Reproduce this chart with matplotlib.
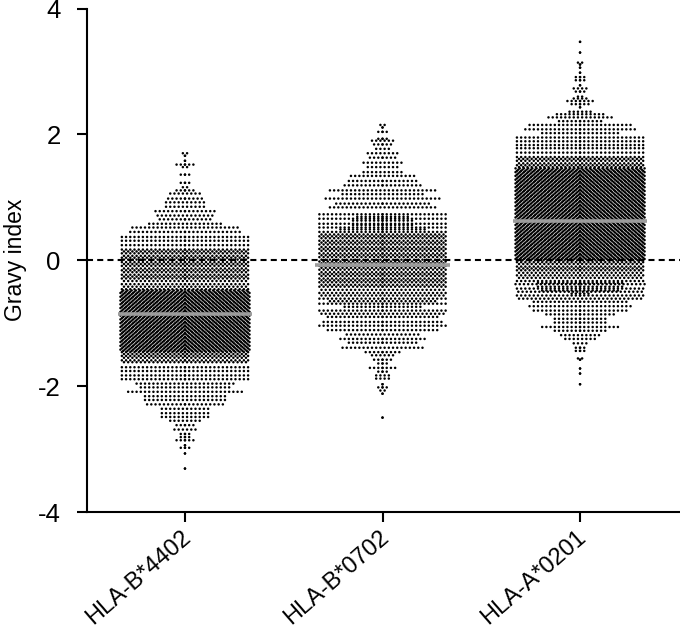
#!/usr/bin/env python3

from matplotlib import pyplot as plt
from matplotlib.transforms import ScaledTranslation
import numpy as np

alleles = ["HLA-B*4402", "HLA-B*0702", "HLA-A*0201"]
means = [-0.85, -0.08, 0.63]

# rows of the swarm: gravy value of a row and how many peptides sit in it
b4402_gravy = [
    1.70, 1.66, 1.58, 1.52, 1.48, 1.36, 1.23, 1.16, 1.11, 1.06, 0.98, 0.92, 0.85, 0.78, 0.71, 0.65,
    0.58, 0.52, 0.45, 0.37, 0.31, 0.24,
    0.17, 0.14, 0.11, 0.07, 0.04, 0.01, -0.03, -0.06, -0.09, -0.13, -0.16, -0.19, -0.23, -0.26,
    -0.29, -0.33, -0.38, -0.42,
    -0.46, -0.48, -0.50, -0.52, -0.54, -0.56, -0.58, -0.60, -0.62, -0.64, -0.66, -0.68, -0.70,
    -0.72, -0.74, -0.76, -0.78, -0.80, -0.82, -0.84, -0.86, -0.88, -0.90, -0.92, -0.94, -0.96,
    -0.98, -1.00, -1.02, -1.04, -1.06, -1.08, -1.10, -1.12, -1.14, -1.16, -1.18, -1.20, -1.22,
    -1.24, -1.26, -1.28, -1.30, -1.32, -1.34, -1.36, -1.38, -1.40, -1.42, -1.44,
    -1.46, -1.49, -1.52, -1.55, -1.59, -1.62,
    -1.70, -1.76, -1.83, -1.89, -1.96, -2.02, -2.09, -2.16, -2.22, -2.29, -2.36, -2.43, -2.49,
    -2.55, -2.62, -2.69, -2.76, -2.81, -2.86, -2.94, -2.98, -3.07, -3.31,
]
b4402_count = [
    2, 1, 1, 5, 2, 3, 3, 2, 5, 8, 9, 10, 10, 15, 14, 13,
    18, 26, 27, 31, 31, 31,
    31, 31, 31, 31, 31, 31, 31, 31, 31, 31, 31, 31, 31, 31,
    31, 31, 31, 31,
    31, 31, 31, 31, 31, 31, 31, 31, 31, 31, 31, 31, 31,
    31, 31, 31, 31, 31, 31, 31, 31, 31, 31, 31, 31, 31,
    31, 31, 31, 31, 31, 31, 31, 31, 31, 31, 31, 31, 31,
    31, 31, 31, 31, 31, 31, 31, 31, 31, 31, 31,
    31, 31, 31, 31, 31, 31,
    31, 31, 31, 31, 24, 22, 28, 20, 20, 19, 12, 12, 12,
    8, 5, 6, 3, 3, 5, 1, 3, 1, 1,
]

b0702_gravy = [
    2.15, 2.11, 2.04, 1.93, 1.90, 1.84, 1.77, 1.70, 1.63, 1.55, 1.48, 1.40, 1.34, 1.26, 1.19, 1.11,
    1.05, 0.98, 0.90, 0.84, 0.73, 0.69, 0.66, 0.63, 0.58, 0.56, 0.52, 0.49, 0.45,
    0.41, 0.38, 0.35, 0.31, 0.28, 0.25, 0.21, 0.18, 0.15, 0.11, 0.08, 0.05, 0.01, -0.02, -0.05,
    -0.09, -0.12, -0.15, -0.19, -0.22, -0.25, -0.29, -0.32, -0.35, -0.39, -0.42, -0.47, -0.52,
    -0.56, -0.61, -0.65, -0.69, -0.74, -0.80, -0.85, -0.90, -0.98, -1.04, -1.11, -1.18, -1.25,
    -1.31, -1.39, -1.46, -1.51, -1.58, -1.64, -1.71, -1.77, -1.83, -1.88, -1.97, -2.02, -2.07,
    -2.12, -2.50,
]
b0702_count = [
    2, 1, 3, 3, 6, 5, 4, 8, 7, 10, 8, 10, 16, 17, 19, 26,
    20, 28, 23, 26, 31, 13, 31, 15, 31, 15, 31, 21, 31,
    31, 31, 31, 31, 31, 31, 31, 31, 31, 31, 31, 31, 31, 31, 31,
    31, 31, 31, 31, 31, 31, 31, 31, 31, 31, 31, 31, 31,
    31, 31, 25, 31, 19, 31, 31, 27, 29, 31, 27, 18, 21,
    17, 20, 9, 6, 5, 3, 7, 3, 4, 4, 1, 3, 2,
    1, 1,
]

a0201_gravy = [
    3.47, 3.30, 3.14, 3.11, 3.06, 2.98, 2.91, 2.86, 2.78, 2.73, 2.68, 2.60, 2.57, 2.53, 2.48, 2.43,
    2.36, 2.32, 2.27, 2.21, 2.15, 2.08, 2.02, 1.95, 1.89, 1.83, 1.78, 1.71,
    1.64, 1.61, 1.58, 1.54, 1.51, 1.48,
    1.46, 1.44, 1.42, 1.40, 1.38, 1.36, 1.34, 1.32, 1.30, 1.28, 1.26, 1.24, 1.22, 1.20, 1.18,
    1.16, 1.14, 1.12, 1.10, 1.08, 1.06, 1.04, 1.02, 1.00, 0.98, 0.96, 0.94, 0.92, 0.90, 0.88,
    0.86, 0.84, 0.82, 0.80, 0.78, 0.76, 0.74, 0.72, 0.70, 0.68, 0.66, 0.64, 0.62, 0.60, 0.58,
    0.56, 0.54, 0.52, 0.50, 0.48, 0.46, 0.44, 0.42, 0.40, 0.38, 0.36, 0.34, 0.32, 0.30, 0.28,
    0.26, 0.24, 0.22, 0.20, 0.18, 0.16, 0.14, 0.12, 0.10, 0.08, 0.06, 0.04, 0.02, 0.00,
    -0.03, -0.06, -0.10, -0.13, -0.16, -0.20, -0.24, -0.28, -0.33, -0.36, -0.38, -0.42, -0.45,
    -0.48, -0.50, -0.53, -0.56, -0.61, -0.66, -0.73, -0.80, -0.86, -0.93, -0.99, -1.06, -1.12,
    -1.19, -1.25, -1.32, -1.39, -1.44, -1.56, -1.58, -1.72, -1.80, -1.97,
]
a0201_count = [
    1, 1, 2, 1, 1, 1, 3, 3, 1, 4, 3, 2, 4, 7, 5, 1,
    6, 12, 16, 11, 25, 27, 19, 31, 31, 31, 31, 31,
    31, 31, 31, 31, 31, 31,
    31, 31, 31, 31, 31, 31, 31, 31, 31, 31, 31, 31, 31, 31, 31,
    31, 31, 31, 31, 31, 31, 31, 31, 31, 31, 31, 31, 31, 31, 31,
    31, 31, 31, 31, 31, 31, 31, 31, 31, 31, 31, 31, 31, 31, 31,
    31, 31, 31, 31, 31, 31, 31, 31, 31, 31, 31, 31, 31, 31, 31,
    31, 31, 31, 31, 31, 31, 31, 31, 31, 31, 31, 31, 31, 31,
    31, 31, 31, 31, 31, 31, 31, 31, 31, 21, 31, 21, 31,
    19, 31, 5, 31, 31, 23, 25, 23, 17, 13, 13, 19, 13,
    10, 8, 4, 3, 3, 2, 1, 1, 1, 1,
]

swarms = [
    (b4402_gravy, b4402_count),
    (b0702_gravy, b0702_count),
    (a0201_gravy, a0201_count),
]


def swarm_offsets(gravy, count, step=0.0213):
    # lay every row out symmetrically around the category centre
    xs = []
    ys = []
    for i, (g, n) in enumerate(zip(gravy, count)):
        gap = abs(gravy[i] - gravy[i - 1]) if i > 0 else 1.0
        if n >= 25 and gap < 0.025:
            shift = (i % 3) / 3
        elif n >= 25 and gap < 0.05:
            shift = (i % 2) / 2
        else:
            shift = 0.5 if n % 2 == 0 else 0.0
        k = np.arange(0, n // 2 + n % 2) + shift
        k = k[k <= 15.4]
        row = np.concatenate([k, -k]) * step
        xs.append(row)
        ys.append(np.full(row.size, g))
    return np.concatenate(xs), np.concatenate(ys)


def main():
    plt.rcParams["font.family"] = ["Liberation Sans", "DejaVu Sans"]

    fig = plt.figure(figsize=(6.8, 6.29), dpi=100)
    ax = fig.add_axes([87 / 680, 1 - 512 / 629, (680 - 87) / 680, (512 - 8.5) / 629])

    ax.axhline(0, color="black", linewidth=1.5, linestyle=(0, (2.9, 2.0)), zorder=1)

    for pos, (gravy, count) in enumerate(swarms):
        x, y = swarm_offsets(gravy, count)
        # one size per dot, so agg does not round the dots to whole pixels
        dots = ax.scatter(pos + x, y, s=np.full(x.size, 3.2), c="black", linewidths=0, zorder=2)
        dots.set_snap(False)
        ax.hlines(means[pos], pos - 0.34, pos + 0.34, color="#9c9c9c", linewidth=2.6, zorder=3)

    ax.set_xlim(-0.496, 2.506)
    ax.set_ylim(-4, 4)
    ax.set_yticks([-4, -2, 0, 2, 4])
    ax.set_yticklabels(["-4", "-2", "0", "2", "4"])
    ax.set_xticks(range(len(alleles)))
    ax.set_xticklabels(alleles, rotation=41, ha="right", rotation_mode="anchor")
    ax.tick_params(axis="both", width=1.5, length=7, labelsize=18.5, pad=12)
    ax.tick_params(axis="x", labelsize=17, pad=3)
    ax.set_ylabel("Gravy index", fontsize=16.5, labelpad=8)

    # nudge the slanted labels so they end under the tick like the original
    nudge = ScaledTranslation(-3 / 72, 0, fig.dpi_scale_trans)
    for label in ax.get_xticklabels():
        label.set_transform(label.get_transform() + nudge)

    for side in ["top", "right"]:
        ax.spines[side].set_visible(False)
    for side in ["left", "bottom"]:
        ax.spines[side].set_linewidth(1.5)

    fig.savefig("out.png", dpi=100)


if __name__ == "__main__":
    main()
